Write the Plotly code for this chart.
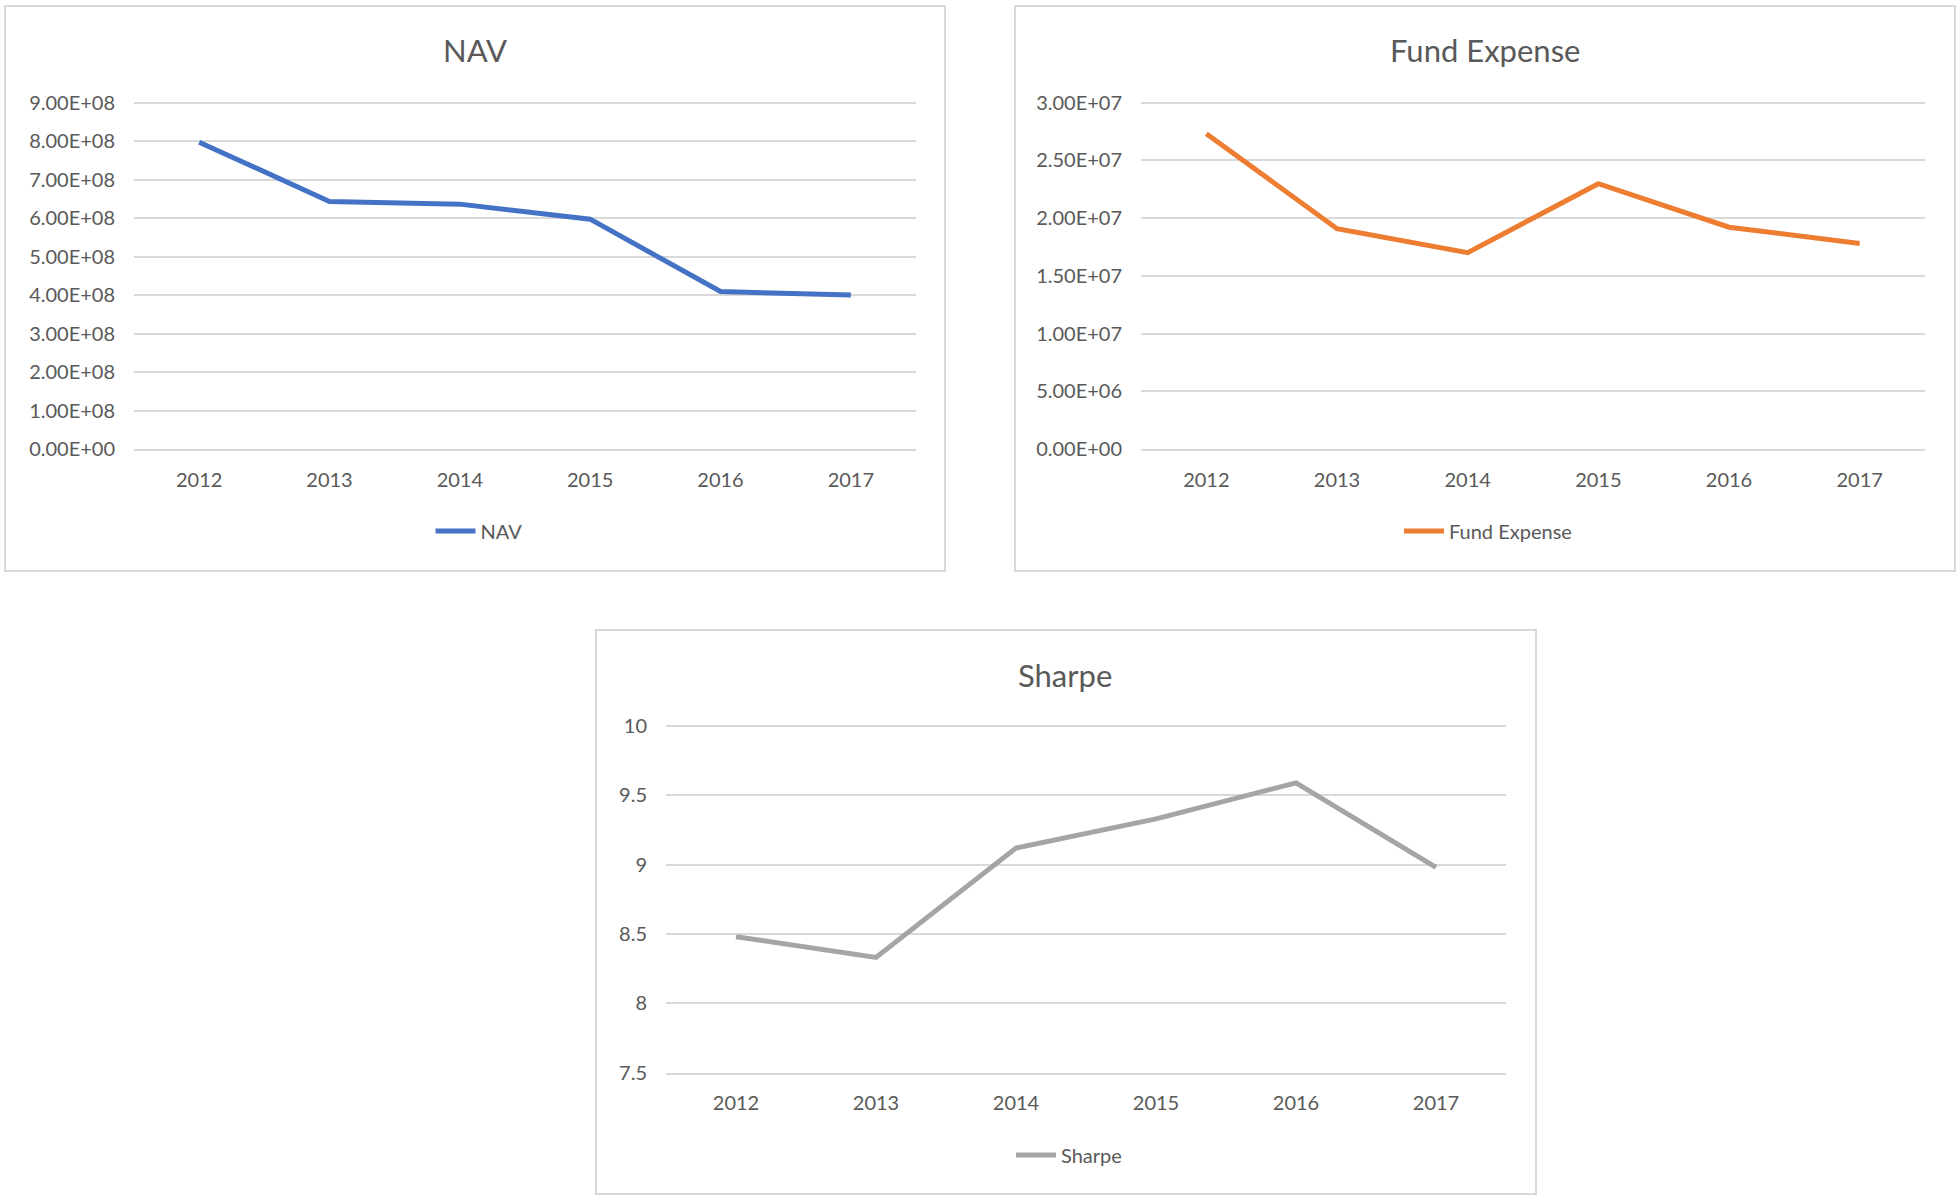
import plotly.graph_objects as go

W, H = 1960, 1200

years = ["2012", "2013", "2014", "2015", "2016", "2017"]
nav = [7.97e8, 6.43e8, 6.36e8, 5.97e8, 4.09e8, 4.00e8]
fund_expense = [2.73e7, 1.907e7, 1.70e7, 2.297e7, 1.92e7, 1.78e7]
sharpe = [8.48, 8.33, 9.12, 9.33, 9.59, 8.98]

nav_ticks = [i * 1e8 for i in range(10)]
fe_ticks = [i * 5e6 for i in range(7)]
sharpe_ticks = [7.5, 8, 8.5, 9, 9.5, 10]

nav_ticktext = [f"{v:.2E}" for v in nav_ticks]
fe_ticktext = [f"{v:.2E}" for v in fe_ticks]
sharpe_ticktext = [f"{v:g}" for v in sharpe_ticks]

FONT = "Lato, 'Open Sans', sans-serif"
TXT = "#595959"
GRID = "#D9D9D9"


def px(x):
    return x / W


def py(y):
    return 1 - y / H


fig = go.Figure()

fig.add_trace(go.Scatter(x=years, y=nav, mode="lines", name="NAV",
                         line=dict(color="#4472C4", width=5), showlegend=True,
                         xaxis="x", yaxis="y", legend="legend"))
fig.add_trace(go.Scatter(x=years, y=fund_expense, mode="lines", name="Fund Expense",
                         line=dict(color="#ED7D31", width=5), showlegend=True,
                         xaxis="x2", yaxis="y2", legend="legend2"))
fig.add_trace(go.Scatter(x=years, y=sharpe, mode="lines", name="Sharpe",
                         line=dict(color="#A5A5A5", width=5), showlegend=True,
                         xaxis="x3", yaxis="y3", legend="legend3"))

tickfont = dict(family=FONT, size=20, color=TXT)


def xax(x0, x1, y_anchor):
    return dict(domain=[px(x0), px(x1)], anchor=y_anchor, type="category",
                range=[-0.5, 5.5], showgrid=False, zeroline=False,
                showline=True, linecolor=GRID, linewidth=1.5,
                ticks="", tickfont=tickfont, ticklabelstandoff=12,
                automargin=False, fixedrange=True)


def yax(ytop, ybot, x_anchor, rng, tv, tt):
    # extend the top slightly so the top gridline is drawn inside the plot area
    pad = (rng[1] - rng[0]) * 0.006
    span_px = ybot - ytop
    return dict(domain=[py(ybot), py(ytop - span_px * 0.006)], anchor=x_anchor,
                range=[rng[0], rng[1] + pad],
                tickvals=tv, ticktext=tt, showgrid=True, gridcolor=GRID,
                gridwidth=1.5, zeroline=False, showline=False, ticks="",
                tickfont=tickfont, ticklabelstandoff=18,
                automargin=False, fixedrange=True)


layout = dict(
    width=W, height=H,
    margin=dict(l=0, r=0, t=0, b=0, pad=0, autoexpand=False),
    paper_bgcolor="white", plot_bgcolor="white",
    showlegend=True,
    font=dict(family=FONT, color=TXT),
    xaxis=xax(134, 916, "y"),
    yaxis=yax(102.5, 449, "x", [0, 9e8], nav_ticks, nav_ticktext),
    xaxis2=xax(1141, 1925, "y2"),
    yaxis2=yax(102.5, 449, "x2", [0, 3e7], fe_ticks, fe_ticktext),
    xaxis3=xax(666, 1506, "y3"),
    yaxis3=yax(726, 1072.5, "x3", [7.5, 10], sharpe_ticks, sharpe_ticktext),
)

for key, (cx, cy) in {"legend": (479, 531), "legend2": (1488, 531), "legend3": (1069, 1155)}.items():
    layout[key] = dict(x=px(cx), y=py(cy), xanchor="center", yanchor="middle",
                       orientation="h", font=dict(family=FONT, size=20, color=TXT),
                       bgcolor="rgba(0,0,0,0)", itemwidth=40, visible=True)

fig.update_layout(**layout)

titles = [("NAV", 475, 50), ("Fund Expense", 1485, 50), ("Sharpe", 1065, 675)]
for text, cx, cy in titles:
    fig.add_annotation(text=text, x=px(cx), y=py(cy), xref="paper", yref="paper",
                       xanchor="center", yanchor="middle", showarrow=False,
                       font=dict(family=FONT, size=31, color=TXT))

borders = [(5, 6, 945, 571), (1015, 6, 1955, 571), (596, 630, 1536, 1194)]
for x0, y0, x1, y1 in borders:
    fig.add_shape(type="rect", xref="paper", yref="paper",
                  x0=px(x0), x1=px(x1), y0=py(y0), y1=py(y1),
                  line=dict(color=GRID, width=2), fillcolor="rgba(0,0,0,0)",
                  layer="below")

post = ("document.body.style.margin='0';document.body.style.overflow='hidden';"
        "var d=document.getElementById('{plot_id}');"
        "d.style.position='absolute';d.style.left='0px';d.style.top='0px';")

fig.write_html("out.html", post_script=post, config={"displayModeBar": False})
